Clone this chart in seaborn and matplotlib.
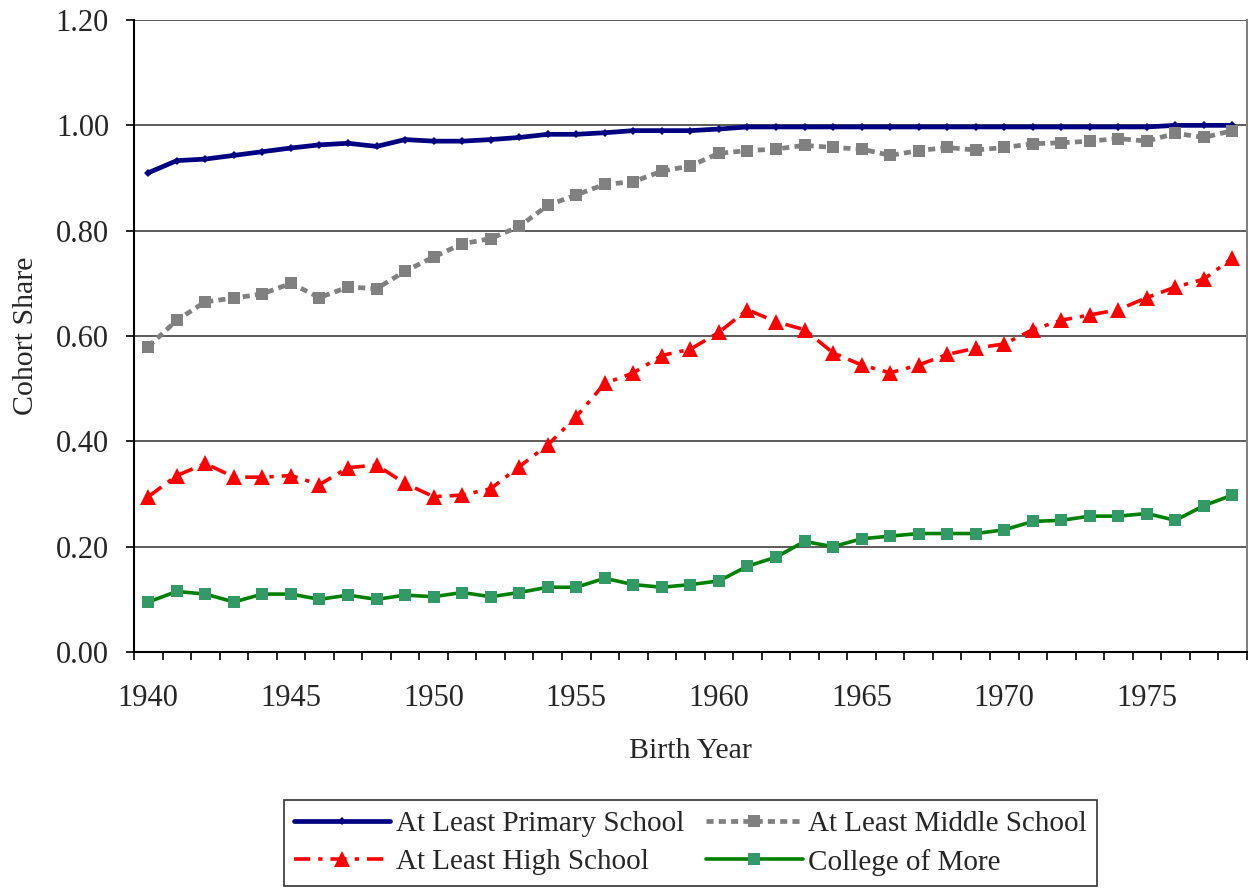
import matplotlib

matplotlib.use("Agg")
import matplotlib.pyplot as plt
import numpy as np
import pandas as pd
import seaborn as sns
from matplotlib.ticker import FixedLocator, FormatStrFormatter

years = list(range(1940, 1979))

primary = [
    0.910, 0.933, 0.936, 0.943, 0.950, 0.957, 0.963, 0.966, 0.960, 0.973,
    0.970, 0.970, 0.973, 0.977, 0.983, 0.983, 0.986, 0.990, 0.990, 0.990,
    0.993, 0.997, 0.997, 0.997, 0.997, 0.997, 0.997, 0.997, 0.997, 0.997,
    0.997, 0.997, 0.997, 0.997, 0.997, 0.997, 1.000, 1.000, 1.000,
]
middle = [
    0.580, 0.630, 0.665, 0.672, 0.680, 0.700, 0.673, 0.693, 0.690, 0.723,
    0.750, 0.775, 0.785, 0.808, 0.848, 0.868, 0.888, 0.893, 0.913, 0.923,
    0.947, 0.952, 0.955, 0.962, 0.958, 0.955, 0.943, 0.952, 0.958, 0.953,
    0.958, 0.965, 0.967, 0.970, 0.975, 0.970, 0.985, 0.977, 0.990,
]
high = [
    0.295, 0.335, 0.358, 0.332, 0.332, 0.335, 0.318, 0.350, 0.355, 0.320,
    0.295, 0.298, 0.310, 0.352, 0.393, 0.447, 0.510, 0.530, 0.563, 0.575,
    0.607, 0.650, 0.627, 0.612, 0.568, 0.545, 0.530, 0.545, 0.565, 0.577,
    0.585, 0.612, 0.630, 0.640, 0.650, 0.673, 0.693, 0.708, 0.748,
]
college = [
    0.095, 0.115, 0.110, 0.095, 0.110, 0.110, 0.100, 0.108, 0.100, 0.108,
    0.105, 0.113, 0.105, 0.113, 0.123, 0.123, 0.140, 0.128, 0.123, 0.128,
    0.135, 0.163, 0.180, 0.210, 0.200, 0.215, 0.220, 0.225, 0.225, 0.225,
    0.232, 0.248, 0.250, 0.258, 0.258, 0.263, 0.250, 0.278, 0.298,
]

labels = [
    "At Least Primary School",
    "At Least Middle School",
    "At Least High School",
    "College of More",
]

sns.set_theme(style="white")
plt.rcParams["font.family"] = ["Liberation Serif", "DejaVu Serif"]

df = pd.DataFrame({"year": years, "primary": primary, "middle": middle,
                   "high": high, "college": college})

fig = plt.figure(figsize=(12.48, 8.9), dpi=100)
ax = fig.add_axes([0.1074, 0.2674, 0.8916, 0.7101])

sns.lineplot(data=df, x="year", y="primary", ax=ax, color="#000080",
             linewidth=3.4, marker="D", markersize=4, markeredgewidth=0,
             label=labels[0])
sns.lineplot(data=df, x="year", y="middle", ax=ax, color="#808080",
             linewidth=3.4, linestyle=(0, (1.5, 1.1)), marker="s",
             markersize=8, markeredgewidth=0, label=labels[1])
sns.lineplot(data=df, x="year", y="high", ax=ax, color="#FF0000",
             linewidth=2.6, linestyle=(0, (4.5, 2.2, 1.2, 2.2)), marker="^",
             markersize=11, markeredgewidth=0, label=labels[2])
sns.lineplot(data=df, x="year", y="college", ax=ax, color="#008000",
             linewidth=2.6, marker="s", markersize=9, markeredgewidth=0,
             markerfacecolor="#339966", label=labels[3])

ax.set_xlim(years[0] - 0.5, years[-1] + 0.5)
ax.set_ylim(0, 1.2)
ax.set_yticks(np.arange(0, 1.21, 0.2))
ax.yaxis.set_major_formatter(FormatStrFormatter("%.2f"))
ax.yaxis.grid(True, color="#404040", linewidth=1.2)
ax.set_axisbelow(True)

# category axis: labels every 5 years, tick marks on category boundaries
ax.set_xticks([y for y in years if (y - 1940) % 5 == 0])
ax.set_xticklabels([str(y) for y in years if (y - 1940) % 5 == 0])
ax.xaxis.set_minor_locator(FixedLocator([y - 0.5 for y in years] + [years[-1] + 0.5]))
ax.tick_params(axis="x", which="major", length=0, labelsize=22, pad=23)
ax.tick_params(axis="x", which="minor", direction="out", length=6, width=1.2,
               color="black", bottom=True)
ax.tick_params(axis="y", direction="out", length=6, width=1.2, color="black",
               left=True, labelsize=22, pad=12)

ax.spines["top"].set_visible(False)
ax.spines["left"].set_color("black")
ax.spines["left"].set_linewidth(1.5)
ax.spines["bottom"].set_color("black")
ax.spines["bottom"].set_linewidth(1.5)
ax.spines["right"].set_color("#808080")
ax.spines["right"].set_linewidth(1.5)

ax.set_xlabel("Birth Year", fontsize=21.5, labelpad=18)
ax.set_ylabel("Cohort Share", fontsize=21.5, labelpad=12)

handles, hl = ax.get_legend_handles_labels()
order = [0, 2, 1, 3]
ax.legend([handles[i] for i in order], [hl[i] for i in order],
          loc="center", bbox_to_anchor=(0.5533, 0.0528), bbox_transform=fig.transFigure,
          ncol=2, fontsize=21, frameon=True, fancybox=False, edgecolor="black",
          handlelength=3.3, columnspacing=0.75, handletextpad=0.2, borderpad=0.35,
          labelspacing=0.4, borderaxespad=0)
ax.get_legend().get_frame().set_linewidth(1.2)

fig.savefig("out.png", dpi=100)
